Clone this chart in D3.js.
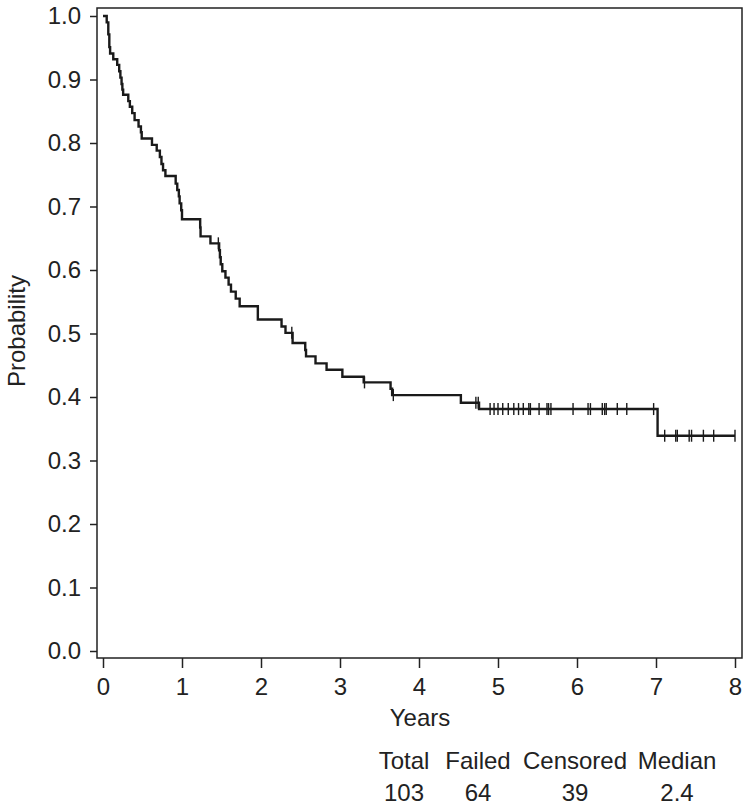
<!DOCTYPE html>
<html>
<head>
<meta charset="utf-8">
<script src="https://cdn.jsdelivr.net/npm/d3@7"></script>
<style>
  html, body { margin: 0; padding: 0; background: #fff; }
  svg { display: block; }
  text { font-family: "Liberation Sans", Arial, Helvetica, sans-serif; fill: #222; }
</style>
</head>
<body>
<svg id="chart" width="751" height="810"></svg>
<script>
// ---- data ----
const stepTimes = [0, 0.047, 0.067, 0.08, 0.09, 0.13, 0.18, 0.205, 0.22, 0.235, 0.245, 0.255,
  0.32, 0.34, 0.37, 0.40, 0.45, 0.48, 0.49, 0.62, 0.68, 0.72, 0.74, 0.76, 0.79,
  0.92, 0.94, 0.96, 0.97, 0.99, 1.00, 1.23, 1.235, 1.36, 1.47, 1.48, 1.49, 1.51,
  1.55, 1.59, 1.62, 1.68, 1.73, 1.96, 2.26, 2.31, 2.40, 2.56, 2.57, 2.69, 2.83,
  3.03, 3.30, 3.64, 3.66, 4.53, 4.76, 7.02, 8.0];
const stepSurvival = [1.0, 0.990, 0.971, 0.951, 0.941, 0.932, 0.923, 0.913, 0.903, 0.893, 0.884, 0.876,
  0.866, 0.857, 0.847, 0.836, 0.826, 0.817, 0.807, 0.797, 0.788, 0.778, 0.767, 0.757, 0.748,
  0.736, 0.726, 0.716, 0.705, 0.694, 0.680, 0.667, 0.653, 0.642, 0.631, 0.620, 0.609, 0.598,
  0.588, 0.577, 0.566, 0.555, 0.543, 0.522, 0.511, 0.501, 0.485, 0.474, 0.464, 0.453, 0.443,
  0.432, 0.423, 0.413, 0.403, 0.391, 0.381, 0.339, 0.339];
const censorTimes = [1.46, 2.39, 3.31, 3.675, 4.72, 4.75, 4.90, 4.95, 5.00, 5.06, 5.13, 5.20,
  5.26, 5.32, 5.39, 5.41, 5.52, 5.62, 5.64, 5.67, 5.95, 6.14, 6.17, 6.32, 6.35, 6.37,
  6.51, 6.63, 6.97, 7.11, 7.25, 7.27, 7.42, 7.45, 7.60, 7.73, 8.0];
const xTicks = [0, 1, 2, 3, 4, 5, 6, 7, 8];
const yTicks = [0, 0.1, 0.2, 0.3, 0.4, 0.5, 0.6, 0.7, 0.8, 0.9, 1.0];
const tableHeaders = ["Total", "Failed", "Censored", "Median"];
const tableValues = ["103", "64", "39", "2.4"];
const xLabel = "Years";
const yLabel = "Probability";

// ---- layout ----
const svg = d3.select("#chart");
const frame = { left: 97, right: 742, top: 8, bottom: 658 };
const x = d3.scaleLinear().domain([0, 8]).range([103, 735]);
const y = d3.scaleLinear().domain([0, 1]).range([651, 16]);
const fontSize = 24;

// frame
svg.append("rect")
  .attr("x", frame.left).attr("y", frame.top)
  .attr("width", frame.right - frame.left).attr("height", frame.bottom - frame.top)
  .attr("fill", "none").attr("stroke", "#222").attr("stroke-width", 1.5);

// y axis
const yAxis = d3.axisLeft(y).tickValues(yTicks).tickFormat(d3.format(".1f"))
  .tickSize(7).tickPadding(9);
const gy = svg.append("g").attr("transform", `translate(${frame.left},0)`).call(yAxis);
gy.select(".domain").remove();
gy.selectAll("line").attr("stroke", "#222").attr("stroke-width", 1.5);
gy.selectAll("text").style("font-size", fontSize + "px").attr("fill", "#222");

// x axis
const xAxis = d3.axisBottom(x).tickValues(xTicks).tickFormat(d3.format("d"))
  .tickSize(10).tickPadding(10);
const gx = svg.append("g").attr("transform", `translate(0,${frame.bottom})`).call(xAxis);
gx.select(".domain").remove();
gx.selectAll("line").attr("stroke", "#222").attr("stroke-width", 1.5);
gx.selectAll("text").style("font-size", fontSize + "px").attr("fill", "#222");

// axis titles
svg.append("text").attr("x", 420).attr("y", 726).attr("text-anchor", "middle")
  .style("font-size", fontSize + "px").text(xLabel);
svg.append("text").attr("transform", "translate(25,331) rotate(-90)").attr("text-anchor", "middle")
  .style("font-size", fontSize + "px").text(yLabel);

// KM step curve
const pts = stepTimes.map((t, i) => [t, stepSurvival[i]]);
const line = d3.line().x(d => x(d[0])).y(d => y(d[1])).curve(d3.curveStepAfter);
svg.append("path").datum(pts).attr("d", line)
  .attr("fill", "none").attr("stroke", "#1a1a1a").attr("stroke-width", 2.4);

// censor marks
const bis = d3.bisector(d => d).right;
function survAt(t) {
  const i = bis(stepTimes, t) - 1;
  return stepSurvival[Math.max(0, i)];
}
svg.append("g").selectAll("line").data(censorTimes).join("line")
  .attr("x1", d => x(d)).attr("x2", d => x(d))
  .attr("y1", d => y(survAt(d)) - 6).attr("y2", d => y(survAt(d)) + 6)
  .attr("stroke", "#1a1a1a").attr("stroke-width", 1.4);

// summary table
const colX = [404, 478, 575, 677];
svg.append("g").selectAll("text").data(tableHeaders).join("text")
  .attr("x", (d, i) => colX[i]).attr("y", 769).attr("text-anchor", "middle")
  .style("font-size", fontSize + "px").text(d => d);
svg.append("g").selectAll("text").data(tableValues).join("text")
  .attr("x", (d, i) => colX[i]).attr("y", 801).attr("text-anchor", "middle")
  .style("font-size", fontSize + "px").text(d => d);
</script>
</body>
</html>
